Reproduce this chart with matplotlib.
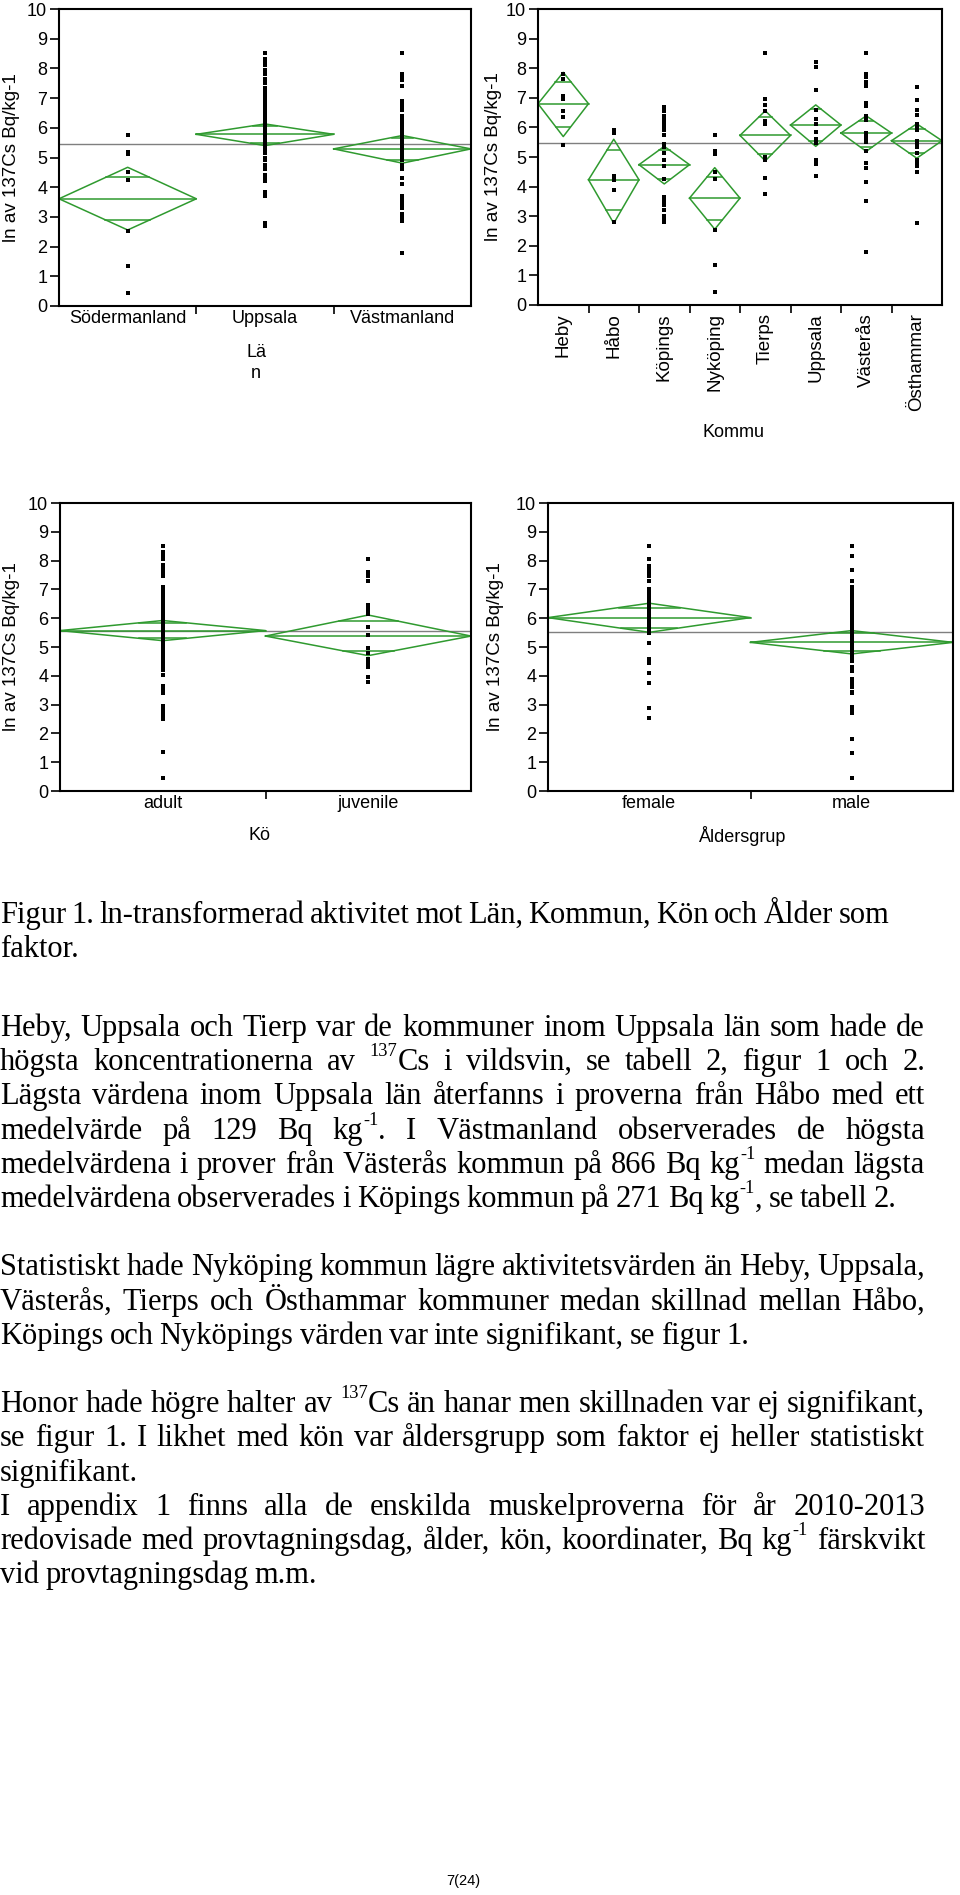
import re
import matplotlib.pyplot as plt
import numpy as np

# ---- data (ln of 137Cs Bq/kg) ----
lan_cats = ["Södermanland", "Uppsala", "Västmanland"]
lan_mean = [3.61, 5.78, 5.29]
lan_top = [4.67, 6.13, 5.74]
lan_bot = [2.56, 5.40, 4.81]
lan_in_hi = [4.34, 6.07, 5.67]
lan_in_lo = [2.90, 5.48, 4.92]
lan_grand = 5.46
lan_points = [
    [5.75, 5.2, 5.12, 4.5, 4.25, 2.52, 1.35, 0.45],
    [8.52, 8.3, 8.2, 8.1, 7.95, 7.8, 7.65, 7.5, 7.35, 7.2, 7.1, 7.0, 6.9, 6.8, 6.7,
     6.6, 6.5, 6.4, 6.3, 6.2, 6.1, 6.0, 5.9, 5.8, 5.7, 5.6, 5.5, 5.4, 5.3, 5.15,
     5.0, 4.9, 4.75, 4.6, 4.4, 4.3, 4.2, 3.85, 3.72, 2.8, 2.7],
    [8.52, 7.8, 7.7, 7.6, 7.4, 6.9, 6.8, 6.7, 6.6, 6.4, 6.3, 6.2, 6.1, 6.0, 5.9,
     5.8, 5.7, 5.6, 5.5, 5.4, 5.3, 5.2, 5.1, 5.0, 4.9, 4.75, 4.6, 4.3, 4.1, 3.7,
     3.6, 3.5, 3.4, 3.3, 3.1, 3.0, 2.9, 2.85, 1.8],
]

kom_cats = ["Heby", "Håbo", "Köpings", "Nyköping", "Tierps", "Uppsala", "Västerås", "Östhammar"]
kom_mean = [6.80, 4.23, 4.74, 3.61, 5.73, 6.08, 5.81, 5.55]
kom_top = [7.86, 5.60, 5.36, 4.64, 6.56, 6.76, 6.39, 6.12]
kom_bot = [5.69, 2.76, 4.09, 2.56, 4.87, 5.36, 5.19, 4.96]
kom_in_hi = [7.52, 5.24, 5.22, 4.34, 6.35, 6.62, 6.23, 5.94]
kom_in_lo = [6.00, 3.21, 4.25, 2.87, 5.11, 5.54, 5.33, 5.13]
kom_grand = 5.47
kom_points = [
    [7.8, 7.65, 7.05, 6.95, 6.55, 6.35, 5.4],
    [5.9, 5.8, 4.35, 4.22, 3.9, 2.8],
    [6.68, 6.55, 6.4, 6.3, 6.2, 6.1, 6.0, 5.92, 5.75, 5.45, 5.35, 5.12, 4.9, 4.68,
     4.25, 3.65, 3.5, 3.38, 3.2, 3.0, 2.9, 2.82],
    [5.75, 5.2, 5.1, 4.5, 4.25, 2.55, 1.35, 0.45],
    [8.5, 6.95, 6.75, 6.55, 6.2, 6.1, 5.0, 4.9, 4.3, 3.75],
    [8.2, 8.05, 7.28, 6.6, 6.3, 6.1, 5.85, 5.6, 5.47, 4.9, 4.78, 4.35],
    [8.5, 7.8, 7.7, 7.55, 7.4, 6.82, 6.73, 6.37, 6.26, 5.8, 5.7, 5.6, 5.5, 5.19,
     4.79, 4.62, 4.17, 3.52, 1.8],
    [7.38, 6.93, 6.6, 6.43, 6.1, 6.0, 5.9, 5.55, 5.45, 5.35, 5.13, 4.9, 4.78,
     4.68, 4.51, 2.76],
]

kon_cats = ["adult", "juvenile"]
kon_mean = [5.57, 5.38]
kon_top = [5.92, 6.11]
kon_bot = [5.22, 4.70]
kon_in_hi = [5.84, 5.90]
kon_in_lo = [5.30, 4.87]
kon_grand = 5.55
kon_points = [
    [8.52, 8.3, 8.2, 8.05, 7.85, 7.75, 7.62, 7.45, 7.1, 7.0, 6.9, 6.8, 6.7, 6.6,
     6.5, 6.4, 6.3, 6.2, 6.1, 6.0, 5.9, 5.8, 5.7, 5.6, 5.5, 5.4, 5.3, 5.2, 5.1,
     5.0, 4.9, 4.8, 4.7, 4.6, 4.5, 4.4, 4.3, 4.2, 4.03, 3.65, 3.5, 3.4, 2.95,
     2.85, 2.75, 2.6, 2.5, 1.36, 0.45],
    [8.06, 7.6, 7.45, 7.3, 6.45, 6.35, 6.25, 6.15, 5.71, 5.42, 4.95, 4.8, 4.6,
     4.45, 4.3, 3.97, 3.79],
]

ald_cats = ["female", "male"]
ald_mean = [6.02, 5.16]
ald_top = [6.52, 5.57]
ald_bot = [5.51, 4.76]
ald_in_hi = [6.37, 5.48]
ald_in_lo = [5.65, 4.87]
ald_grand = 5.51
ald_points = [
    [8.52, 8.05, 7.8, 7.7, 7.6, 7.45, 7.3, 7.0, 6.9, 6.8, 6.7, 6.6, 6.5, 6.4, 6.3,
     6.2, 6.1, 6.0, 5.9, 5.8, 5.7, 5.6, 5.5, 5.13, 4.6, 4.5, 4.43, 4.1, 3.74,
     2.87, 2.52],
    [8.52, 8.17, 7.68, 7.3, 7.1, 6.95, 6.8, 6.7, 6.6, 6.5, 6.4, 6.3, 6.2, 6.1,
     6.0, 5.9, 5.8, 5.7, 5.6, 5.5, 5.4, 5.3, 5.2, 5.1, 5.0, 4.9, 4.8, 4.7, 4.6,
     4.5, 4.3, 4.15, 3.9, 3.75, 3.6, 3.45, 3.4, 2.9, 2.8, 2.7, 1.79, 1.32, 0.45],
]

caption = [
    "Figur 1. ln-transformerad aktivitet mot Län, Kommun, Kön och Ålder som",
    "faktor.",
]
# ^{...} marks superscript; True = justified line
body = [
    ("Heby, Uppsala och Tierp var de kommuner inom Uppsala län som hade de", True),
    ("högsta koncentrationerna av ^{137}Cs i vildsvin, se tabell 2, figur 1 och 2.", True),
    ("Lägsta värdena inom Uppsala län återfanns i proverna från Håbo med ett", True),
    ("medelvärde på 129 Bq kg^{-1}. I Västmanland observerades de högsta", True),
    ("medelvärdena i prover från Västerås kommun på 866 Bq kg^{-1} medan lägsta", True),
    ("medelvärdena observerades i Köpings kommun på 271 Bq kg^{-1}, se tabell 2.", False),
    ("", False),
    ("Statistiskt hade Nyköping kommun lägre aktivitetsvärden än Heby, Uppsala,", True),
    ("Västerås, Tierps och Östhammar kommuner medan skillnad mellan Håbo,", True),
    ("Köpings och Nyköpings värden var inte signifikant, se figur 1.", False),
    ("", False),
    ("Honor hade högre halter av ^{137}Cs än hanar men skillnaden var ej signifikant,", True),
    ("se figur 1. I likhet med kön var åldersgrupp som faktor ej heller statistiskt", True),
    ("signifikant.", False),
    ("I appendix 1 finns alla de enskilda muskelproverna för år 2010-2013", True),
    ("redovisade med provtagningsdag, ålder, kön, koordinater, Bq kg^{-1} färskvikt", True),
    ("vid provtagningsdag m.m.", False),
]

W, H = 960, 1895
COL = 925  # right edge of the text column, px
GREEN = "#2f9a2f"
SANS = "Liberation Sans"
SERIF = "Liberation Serif"

fig = plt.figure(figsize=(W / 100, H / 100), dpi=100)


def rect(l, t, r, b):
    return [l / W, 1 - b / H, (r - l) / W, (b - t) / H]


def panel(box, cats, mean, top, bot, in_hi, in_lo, points, grand, rotate, ylab_x):
    ax = fig.add_axes(rect(*box))
    n = len(cats)
    ax.set_xlim(-0.5, n - 0.5)
    ax.set_ylim(0, 10)
    ax.axhline(grand, color="#7f7f7f", lw=1.0, zorder=1)
    for i in range(n):
        m, t, b = mean[i], top[i], bot[i]
        ax.plot([i - 0.5, i, i + 0.5, i, i - 0.5], [m, t, m, b, m], color=GREEN, lw=1.1, zorder=2)
        ax.plot([i - 0.5, i + 0.5], [m, m], color=GREEN, lw=1.1, zorder=2)
        for v in (in_hi[i], in_lo[i]):
            ext = t if v > m else b
            hw = 0.5 * (ext - v) / (ext - m)
            ax.plot([i - hw, i + hw], [v, v], color=GREEN, lw=1.1, zorder=2)
        ax.plot(np.full(len(points[i]), i), points[i], "s", ms=2.4, mew=0,
                color="black", zorder=3)

    ax.set_yticks(range(0, 11))
    ax.tick_params(axis="y", length=6.5, width=1.2, labelsize=13, pad=2)
    ax.set_xticks(np.arange(0.5, n - 1, 1))
    ax.set_xticklabels([])
    ax.tick_params(axis="x", which="major", length=5.5, width=1.2)
    ax.set_xticks(np.arange(n), minor=True)
    if rotate:
        ax.set_xticklabels(cats, minor=True, rotation=90, fontsize=13.5, family=SANS)
        ax.tick_params(axis="x", which="minor", length=0, pad=6)
    else:
        ax.set_xticklabels(cats, minor=True, fontsize=13, family=SANS)
        ax.tick_params(axis="x", which="minor", length=0, pad=3)
    for lab in ax.get_yticklabels():
        lab.set_family(SANS)
    for s in ax.spines.values():
        s.set_linewidth(1.5)
    ax.set_ylabel("ln av 137Cs Bq/kg-1", fontsize=13.5, family=SANS, va="center")
    ax.yaxis.set_label_coords(ylab_x, 0.5)
    return ax


# y-label centres in px
panel((59, 9, 471, 306), lan_cats, lan_mean, lan_top, lan_bot, lan_in_hi, lan_in_lo,
      lan_points, lan_grand, False, (12 - 59) / 412)
panel((538, 9, 942, 305), kom_cats, kom_mean, kom_top, kom_bot, kom_in_hi, kom_in_lo,
      kom_points, kom_grand, True, (493 - 538) / 404)
panel((60, 503, 471, 791), kon_cats, kon_mean, kon_top, kon_bot, kon_in_hi, kon_in_lo,
      kon_points, kon_grand, False, (12 - 60) / 411)
panel((548, 503, 953, 791), ald_cats, ald_mean, ald_top, ald_bot, ald_in_hi, ald_in_lo,
      ald_points, ald_grand, False, (495 - 548) / 405)

# axis titles (truncated in the original)
fig.text(256 / W, 1 - 363 / H, "Lä\nn", ha="center", va="center", fontsize=13,
         family=SANS, linespacing=1.35)
fig.text(734 / W, 1 - 432 / H, "Kommu", ha="center", va="center", fontsize=13, family=SANS)
fig.text(259 / W, 1 - 836 / H, "Kö", ha="center", va="center", fontsize=13, family=SANS)
fig.text(743 / W, 1 - 836 / H, "Åldersgrup", ha="center", va="center", fontsize=13, family=SANS)

# ---- justified body text ----
renderer = fig.canvas.get_renderer()
SUP = 0.6


def width_of(s, size):
    t = fig.text(0, 0, s, fontsize=size, family=SERIF)
    w = t.get_window_extent(renderer).width
    t.remove()
    return w


def segments(word):
    parts = re.split(r"\^\{([^}]*)\}", word)
    return [(p, i % 2 == 1) for i, p in enumerate(parts) if p]


def word_width(word, fs):
    return sum(width_of(t, fs * SUP if sup else fs) for t, sup in segments(word))


def space_of(fs):
    return 0.8 * (width_of("x x", fs) - width_of("xx", fs))


def natural(s, fs):
    words = s.split(" ")
    return sum(word_width(w, fs) for w in words) + space_of(fs) * (len(words) - 1)


base = 20.0
fs = base * 753 / natural(body[9][0], base)
widest = max(natural(s, fs) for s, j in body if j)
if widest > COL - 3:
    fs = fs * (COL - 3) / widest


def put_line(s, y, fs, width=None):
    words = s.split(" ")
    ws = [word_width(w, fs) for w in words]
    if width is None or len(words) < 2:
        gap = space_of(fs)
    else:
        gap = (width - sum(ws)) / (len(words) - 1)
    x = 0.0
    raise_px = fs * 0.45 * 100 / 72
    for w, wd in zip(words, ws):
        xx = x
        for t, sup in segments(w):
            size = fs * SUP if sup else fs
            yy = y - raise_px if sup else y
            fig.text(xx / W, 1 - yy / H, t, fontsize=size, family=SERIF,
                     va="baseline", ha="left")
            xx += width_of(t, size)
        x += wd + gap


put_line(caption[0], 923, fs, 889)
put_line(caption[1], 957, fs)
for k, (s, just) in enumerate(body):
    if s:
        put_line(s, 1036 + k * 34.2, fs, COL if just else None)

fig.text(463 / W, 1 - 1881 / H, "7(24)", ha="center", va="center", fontsize=10.5, family=SANS)

fig.savefig("out.png", dpi=100)
